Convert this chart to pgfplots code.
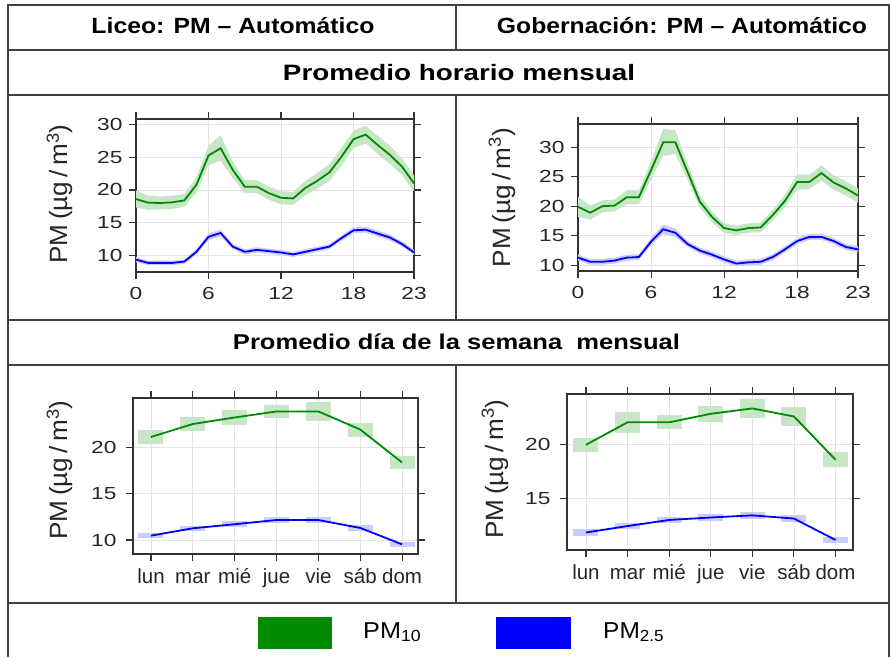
\documentclass[border=0pt]{standalone}
\usepackage{pgfplots}
\pgfplotsset{compat=1.18}
\usepackage{pgfplotstable}
\usepackage{fontspec}
\setmainfont{Liberation Sans}
\usepackage{graphicx}

\definecolor{pmg}{HTML}{008B00}
\definecolor{pmb}{HTML}{0000FF}
\definecolor{gband}{HTML}{C6E6C6}
\definecolor{bband}{HTML}{CCCCFF}
\definecolor{frame}{HTML}{404040}

\newcommand\sx[1]{\scalebox{1.3}[1]{#1}}

\pgfplotstableread{
h g b
0 18.6 9.3
1 18.05 8.8
2 18.0 8.8
3 18.1 8.8
4 18.4 9.0
5 20.8 10.5
6 25.3 12.8
7 26.4 13.4
8 23.1 11.3
9 20.5 10.5
10 20.5 10.8
11 19.5 10.6
12 18.8 10.4
13 18.7 10.1
14 20.3 10.5
15 21.4 10.9
16 22.7 11.3
17 25.1 12.6
18 27.8 13.8
19 28.5 13.9
20 26.9 13.3
21 25.4 12.7
22 23.6 11.7
23 21.0 10.4
}\liceoH

\pgfplotstableread{
h g b
0 19.9 11.3
1 18.9 10.6
2 20.0 10.6
3 20.1 10.8
4 21.5 11.3
5 21.5 11.4
6 26.1 14.0
7 30.8 16.1
8 30.8 15.5
9 25.8 13.6
10 20.8 12.5
11 18.2 11.8
12 16.3 11.0
13 15.9 10.3
14 16.3 10.5
15 16.4 10.6
16 18.5 11.4
17 20.9 12.7
18 24.1 14.1
19 24.1 14.8
20 25.6 14.8
21 24.0 14.1
22 23.0 13.1
23 21.8 12.7
}\gobH

\pgfplotstableread{
d g ge b be
0 21.1 0.75 10.47 0.25
1 22.5 0.8 11.26 0.3
2 23.2 0.8 11.7 0.3
3 23.85 0.7 12.15 0.3
4 23.85 1.0 12.15 0.35
5 21.9 0.75 11.3 0.3
6 18.35 0.75 9.53 0.25
}\liceoD

\pgfplotstableread{
d g ge b be
0 20.0 0.65 11.8 0.3
1 22.1 1.0 12.4 0.3
2 22.1 0.65 12.97 0.3
3 22.9 0.75 13.2 0.3
4 23.4 0.85 13.4 0.35
5 22.65 0.9 13.1 0.3
6 18.6 0.7 11.1 0.3
}\gobD

\pgfplotsset{
  pmaxis/.style={scale only axis, anchor=south west,
    axis line style={line width=1.1pt, black!80},
    tick align=outside, major tick length=7pt,
    tick style={line width=1.1pt, black!80},
    grid=major, major grid style={line width=0.8pt, black!11},
    tick label style={font=\fontsize{17.5}{17.5}\selectfont, text=black!85}},
  houraxis/.style={pmaxis, xmin=0, xmax=23, xtick={0,6,12,18,23},
    xticklabels={\sx{0},\sx{6},\sx{12},\sx{18},\sx{23}},
    ytick={10,15,20,25,30},
    yticklabels={\sx{10},\sx{15},\sx{20},\sx{25},\sx{30}},
    x tick label style={yshift=-5pt},
    y tick label style={xshift=-3pt}},
  dayaxis/.style={pmaxis, xtick={0,...,6},
    xticklabels={lun,mar,mié,jue,vie,sáb,dom},
    x tick label style={font=\fontsize{20.5}{20.5}\selectfont,
      text height=15pt, text depth=4pt, yshift=-4pt},
    y tick label style={xshift=-6pt}},
}

\begin{document}
\begin{tikzpicture}
\useasboundingbox (0,0) rectangle (891pt,657pt);

% frame of the table
\begin{scope}[frame, line width=1.8pt]
  \draw (8pt,0pt) -- (8pt,652pt) -- (889pt,652pt) -- (889pt,0pt);
  \draw (8pt,607pt) -- (889pt,607pt);
  \draw (8pt,562pt) -- (889pt,562pt);
  \draw (8pt,337pt) -- (889pt,337pt);
  \draw (8pt,292pt) -- (889pt,292pt);
  \draw (8pt,54pt) -- (889pt,54pt);
  \draw (456pt,607pt) -- (456pt,652pt);
  \draw (456pt,337pt) -- (456pt,562pt);
  \draw (456pt,54pt) -- (456pt,292pt);
\end{scope}

% headers
\node[anchor=base, inner sep=0, font=\fontsize{22}{22}\selectfont\bfseries] at (233pt,623pt)
  {\resizebox{283pt}{\height}{Liceo: PM – Automático}};
\node[anchor=base, inner sep=0, font=\fontsize{22}{22}\selectfont\bfseries] at (682pt,623pt)
  {\resizebox{370pt}{\height}{Gobernación: PM – Automático}};
\node[anchor=base, inner sep=0, font=\fontsize{22.3}{22}\selectfont\bfseries] at (459pt,576pt)
  {\resizebox{352pt}{\height}{Promedio horario mensual}};
\node[anchor=base, inner sep=0, font=\fontsize{21.4}{22}\selectfont\bfseries] at (456.5pt,308pt)
  {\resizebox{447pt}{\height}{Promedio día de la semana\ \ mensual}};

% hourly, Liceo
\begin{axis}[houraxis, at={(136pt,385pt)}, width=278pt, height=153pt,
  ymin=7.4, ymax=30.9]
  \addplot[fill=gband, draw=none, forget plot] coordinates {
   (0,19.9)(1,19.15)(2,19.0)(3,19.1)(4,19.4)(5,22.0)(6,26.8)(7,28.4)(8,24.4)(9,21.5)(10,21.5)(11,20.5)
   (12,19.8)(13,19.7)(14,21.4)(15,22.6)(16,24.0)(17,26.5)(18,29.1)(19,29.9)(20,28.3)(21,26.8)(22,24.9)(23,22.2)
   (23,19.8)(22,22.3)(21,24.0)(20,25.5)(19,27.1)(18,26.5)(17,23.7)(16,21.4)(15,20.2)(14,19.2)(13,17.7)(12,17.8)
   (11,18.5)(10,19.5)(9,19.5)(8,21.8)(7,24.5)(6,23.8)(5,19.6)(4,17.4)(3,17.1)(2,17.0)(1,16.95)(0,17.3)};
  \addplot[fill=bband, draw=none, forget plot] coordinates {
   (0,9.7)(1,9.15)(2,9.15)(3,9.15)(4,9.35)(5,10.9)(6,13.3)(7,13.9)(8,11.7)(9,10.9)(10,11.2)(11,11.0)
   (12,10.8)(13,10.5)(14,10.9)(15,11.3)(16,11.7)(17,13.0)(18,14.25)(19,14.35)(20,13.75)(21,13.15)(22,12.1)(23,10.8)
   (23,10.0)(22,11.3)(21,12.25)(20,12.85)(19,13.45)(18,13.35)(17,12.2)(16,10.9)(15,10.5)(14,10.1)(13,9.7)(12,10.0)
   (11,10.2)(10,10.4)(9,10.1)(8,10.9)(7,12.9)(6,12.3)(5,10.1)(4,8.65)(3,8.45)(2,8.45)(1,8.45)(0,8.9)};
  \addplot[pmg, line width=1.8pt] table[x=h, y=g]{\liceoH};
  \addplot[pmb, line width=1.8pt] table[x=h, y=b]{\liceoH};
\end{axis}
% hourly, Gobernacion
\begin{axis}[houraxis, at={(578pt,386pt)}, width=280pt, height=147pt,
  ymin=9.04, ymax=33.9]
  \addplot[fill=gband, draw=none, forget plot] coordinates {
   (0,21.6)(1,20.1)(2,21.0)(3,21.1)(4,22.7)(5,22.7)(6,27.6)(7,33.1)(8,32.8)(9,27.1)(10,21.8)(11,19.1)
   (12,17.1)(13,16.7)(14,17.1)(15,17.2)(16,19.4)(17,21.9)(18,25.4)(19,25.3)(20,26.9)(21,25.2)(22,24.2)(23,23.0)
   (23,20.6)(22,21.8)(21,22.8)(20,24.3)(19,22.9)(18,22.8)(17,19.9)(16,17.6)(15,15.6)(14,15.5)(13,15.1)(12,15.5)
   (11,17.3)(10,19.8)(9,24.5)(8,28.8)(7,28.5)(6,24.6)(5,20.3)(4,20.3)(3,19.1)(2,19.0)(1,17.7)(0,18.2)};
  \addplot[fill=bband, draw=none, forget plot] coordinates {
   (0,11.8)(1,11.1)(2,11.1)(3,11.3)(4,11.8)(5,11.9)(6,14.6)(7,16.9)(8,16.2)(9,14.1)(10,13.0)(11,12.3)
   (12,11.5)(13,10.8)(14,11.0)(15,11.1)(16,11.9)(17,13.2)(18,14.6)(19,15.3)(20,15.3)(21,14.6)(22,13.6)(23,13.2)
   (23,12.2)(22,12.6)(21,13.6)(20,14.3)(19,14.3)(18,13.6)(17,12.2)(16,10.9)(15,10.1)(14,10.0)(13,9.8)(12,10.5)
   (11,11.3)(10,12.0)(9,13.1)(8,14.8)(7,15.3)(6,13.4)(5,10.9)(4,10.8)(3,10.3)(2,10.1)(1,10.1)(0,10.8)};
  \addplot[pmg, line width=1.8pt] table[x=h, y=g]{\gobH};
  \addplot[pmb, line width=1.8pt] table[x=h, y=b]{\gobH};
\end{axis}
% weekday, Liceo
\begin{axis}[dayaxis, at={(133pt,103pt)}, width=285pt, height=156pt,
  xmin=-0.43, xmax=6.38, ymin=8.49, ymax=25.3,
  ytick={10,15,20}, yticklabels={\sx{10},\sx{15},\sx{20}}]
  \addplot[draw=none, forget plot, error bars/.cd, y dir=both, y explicit,
    error mark=none, error bar style={draw=gband, line width=25pt}]
    table[x=d, y=g, y error=ge]{\liceoD};
  \addplot[draw=none, forget plot, error bars/.cd, y dir=both, y explicit,
    error mark=none, error bar style={draw=bband, line width=25pt}]
    table[x=d, y=b, y error=be]{\liceoD};
  \addplot[pmg, line width=1.8pt] table[x=d, y=g]{\liceoD};
  \addplot[pmb, line width=1.8pt] table[x=d, y=b]{\liceoD};
\end{axis}
% weekday, Gobernacion
\begin{axis}[dayaxis, at={(567pt,107pt)}, width=286pt, height=156pt,
  xmin=-0.456, xmax=6.42, ymin=10.16, ymax=24.75,
  ytick={15,20}, yticklabels={\sx{15},\sx{20}}]
  \addplot[draw=none, forget plot, error bars/.cd, y dir=both, y explicit,
    error mark=none, error bar style={draw=gband, line width=25pt}]
    table[x=d, y=g, y error=ge]{\gobD};
  \addplot[draw=none, forget plot, error bars/.cd, y dir=both, y explicit,
    error mark=none, error bar style={draw=bband, line width=25pt}]
    table[x=d, y=b, y error=be]{\gobD};
  \addplot[pmg, line width=1.8pt] table[x=d, y=g]{\gobD};
  \addplot[pmb, line width=1.8pt] table[x=d, y=b]{\gobD};
\end{axis}

% y labels
\foreach \xx/\yy in {68/463, 510/459.5, 68/187, 503/188}{
  \node[rotate=90, anchor=base, inner sep=0, font=\fontsize{25}{25}\selectfont, text=black!85]
    at (\xx pt,\yy pt) {\resizebox{139pt}{\height}{PM\,(µg\,/\,m\textsuperscript{3})}};
}

% legend
\fill[pmg] (258pt,8pt) rectangle (332pt,40pt);
\fill[pmb] (496pt,8pt) rectangle (571pt,40pt);
\node[anchor=base west, inner sep=0, font=\fontsize{23}{23}\selectfont] at (363pt,19pt)
  {\resizebox{58pt}{\height}{PM\textsubscript{10}}};
\node[anchor=base west, inner sep=0, font=\fontsize{23}{23}\selectfont] at (603pt,19pt)
  {\resizebox{61pt}{\height}{PM\textsubscript{2.5}}};
\end{tikzpicture}
\end{document}
